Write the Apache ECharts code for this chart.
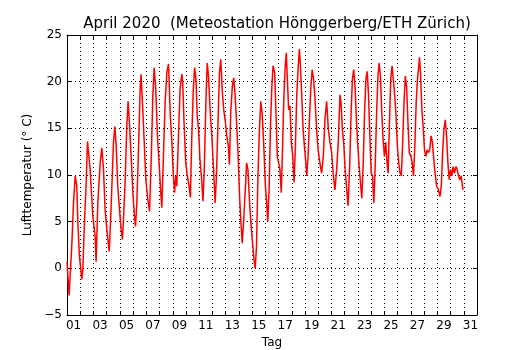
<!DOCTYPE html>
<html>
<head>
<meta charset="utf-8">
<script src="https://cdn.jsdelivr.net/npm/echarts@6/dist/echarts.min.js"></script>
<style>
  html, body { margin: 0; padding: 0; background: #fff; }
  #chartmain { width: 530px; height: 350px; }
</style>
</head>
<body>
<div id="chartmain"></div>
<script>
// Tage seit 1. April 00:00, Lufttemperatur in Grad C
var woche1 = [
    [0.0, 0.7], [0.16, -2.9], [0.37, 2.7], [0.49, 7.0], [0.62, 9.9], [0.74, 8.8], [0.82, 4.9], [0.94, 1.3],
    [1.12, -1.2], [1.2, -0.1], [1.3, 4.2], [1.45, 9.2], [1.55, 13.6], [1.62, 13.4], [1.75, 10.6], [1.95, 5.6],
    [2.13, 3.4], [2.2, 0.7], [2.33, 7.0], [2.51, 11.3], [2.63, 12.9], [2.76, 10.6], [2.88, 6.3], [3.01, 4.2],
    [3.19, 1.8], [3.31, 5.6], [3.44, 10.6], [3.51, 13.4], [3.62, 15.2], [3.72, 13.1], [3.84, 8.8], [3.97, 6.3],
    [4.09, 4.2], [4.19, 3.1], [4.27, 5.2], [4.4, 9.5], [4.52, 15.2], [4.62, 17.9], [4.72, 15.6], [4.85, 12.0],
    [4.98, 8.1], [5.1, 5.6], [5.18, 4.5], [5.28, 7.0], [5.4, 12.4], [5.53, 19.2], [5.6, 20.8], [5.73, 17.0],
    [5.83, 13.8], [5.96, 9.5], [6.11, 7.4], [6.24, 6.1], [6.36, 11.3], [6.49, 18.5], [6.59, 21.5], [6.71, 19.2],
    [6.84, 14.2], [6.99, 10.6], [7.12, 7.4], [7.17, 6.5], [7.29, 12.0], [7.42, 17.8], [7.55, 21.0]
];
var woche2 = [
    [7.68, 21.9], [7.8, 16.7], [7.93, 13.5], [8.03, 10.2], [8.13, 8.1], [8.23, 9.9], [8.3, 8.8], [8.43, 14.2],
    [8.55, 19.2], [8.68, 20.8], [8.75, 19.9], [8.85, 15.6], [8.98, 11.3], [9.1, 9.9], [9.23, 8.8], [9.33, 7.6],
    [9.43, 13.8], [9.55, 19.2], [9.65, 21.5], [9.75, 20.3], [9.85, 16.3], [9.95, 14.9], [10.05, 11.7], [10.18, 9.5],
    [10.28, 7.2], [10.38, 10.6], [10.5, 17.7], [10.6, 22.0], [10.7, 20.6], [10.83, 16.7], [10.95, 14.2], [11.08, 10.6],
    [11.2, 7.0], [11.3, 9.9], [11.43, 16.3], [11.53, 21.0], [11.63, 22.4], [11.73, 19.2], [11.85, 17.0], [11.98, 15.6],
    [12.08, 14.2], [12.2, 13.1], [12.28, 11.1], [12.38, 16.7], [12.5, 19.5], [12.6, 20.4], [12.7, 18.8], [12.8, 16.3],
    [12.93, 12.4], [13.05, 7.7], [13.15, 4.9], [13.25, 2.7], [13.35, 4.9], [13.48, 8.4], [13.58, 11.3], [13.68, 10.6],
    [13.78, 7.7], [13.9, 4.9], [14.03, 2.7], [14.13, 1.0], [14.23, 0.0], [14.33, 2.4], [14.43, 9.5], [14.55, 14.9],
    [14.65, 17.9], [14.75, 16.7], [14.88, 13.1], [15.0, 8.8], [15.1, 7.0], [15.18, 5.0], [15.28, 8.4], [15.38, 14.9],
    [15.48, 19.2], [15.58, 21.7]
];
var woche3 = [
    [15.7, 21.0], [15.8, 16.7], [15.9, 12.0], [16.0, 11.3], [16.1, 10.6], [16.2, 8.1], [16.3, 13.1], [16.4, 18.5],
    [16.5, 21.7], [16.58, 23.1], [16.66, 20.3], [16.76, 17.0], [16.86, 17.4], [16.96, 13.5], [17.07, 12.0], [17.17, 9.2],
    [17.27, 13.1], [17.37, 18.5], [17.47, 21.3], [17.57, 23.5], [17.65, 21.7], [17.75, 18.5], [17.85, 14.9], [17.95, 13.1],
    [18.06, 11.3], [18.13, 9.9], [18.23, 12.0], [18.34, 16.3], [18.44, 19.5], [18.54, 21.3], [18.64, 20.3], [18.74, 18.5],
    [18.87, 14.9], [18.99, 12.7], [19.12, 11.3], [19.25, 10.2], [19.38, 12.0], [19.5, 15.9], [19.63, 17.9], [19.76, 14.9],
    [19.88, 13.5], [20.01, 12.4], [20.14, 9.9], [20.26, 8.4], [20.39, 10.6], [20.52, 13.8], [20.64, 18.6], [20.72, 17.7],
    [20.82, 14.9], [20.92, 13.5], [21.03, 10.6], [21.15, 8.4], [21.25, 6.7], [21.38, 11.3], [21.48, 16.7], [21.58, 20.3],
    [21.68, 21.3], [21.79, 19.2], [21.89, 15.6], [21.99, 13.1], [22.09, 10.9], [22.19, 9.2], [22.29, 7.5], [22.4, 11.3],
    [22.5, 16.7], [22.6, 20.3], [22.7, 21.1], [22.8, 18.5], [22.9, 14.2], [23.0, 10.2], [23.1, 9.9], [23.2, 7.0],
    [23.31, 11.3], [23.41, 16.7], [23.51, 20.6]
];
var woche4 = [
    [23.6, 22.0], [23.7, 20.6], [23.8, 16.7], [23.9, 13.8], [24.0, 12.0], [24.1, 13.5], [24.2, 11.3], [24.28, 10.2],
    [24.38, 15.6], [24.48, 20.3], [24.58, 21.7], [24.68, 21.9], [24.78, 18.5], [24.88, 16.3], [24.98, 13.1], [25.08, 11.3],
    [25.18, 10.2], [25.28, 9.9], [25.38, 13.5], [25.48, 17.7], [25.58, 20.6], [25.68, 19.4], [25.78, 15.6], [25.88, 12.4],
    [26.0, 12.0], [26.1, 11.3], [26.2, 9.9], [26.3, 13.1], [26.4, 17.7], [26.5, 20.3], [26.6, 21.7], [26.65, 22.6],
    [26.73, 21.0], [26.83, 17.0], [26.93, 15.2], [27.03, 12.7], [27.13, 12.0], [27.23, 12.7], [27.33, 12.4], [27.43, 12.7],
    [27.53, 14.2], [27.63, 13.5], [27.73, 11.7], [27.83, 10.2], [27.95, 8.8], [28.08, 8.4], [28.2, 7.7], [28.3, 8.8],
    [28.4, 12.4], [28.5, 14.9], [28.6, 15.9], [28.7, 14.2], [28.8, 11.3], [28.9, 9.5], [29.0, 10.6], [29.1, 9.9],
    [29.2, 10.9], [29.3, 10.2], [29.4, 10.9], [29.5, 10.6], [29.6, 9.9], [29.7, 9.5], [29.8, 9.9], [29.9, 8.8],
    [29.95, 8.4]
];
// beschriftete Tage (Beschriftung jeweils in der Tagesmitte)
var labelDays = [1, 3, 5, 7, 9, 11, 13, 15, 17, 19, 21, 23, 25, 27, 29, 31];
var yTicks = { min: -5, max: 25, step: 5 };

var tempData = woche1.concat(woche2, woche3, woche4);
var font = 'DejaVu Sans';
var gridDots = { color: '#000', width: 1, type: [1, 3] };
var boxLine = { show: true, onZero: false, lineStyle: { color: '#000', width: 1 } };
var innerTick = { show: true, inside: true, length: 4, lineStyle: { color: '#000' } };

var myChart = echarts.init(document.getElementById('chartmain'));
var option = {
    animation: false,
    title: {
        text: 'April 2020  (Meteostation Hönggerberg/ETH Zürich)',
        left: 272,
        textAlign: 'center',
        top: 12,
        textStyle: { fontFamily: font, fontSize: 15, fontWeight: 'normal', color: '#000' }
    },
    grid: { left: 67, right: 53, top: 35, bottom: 35, outerBoundsMode: 'none' },
    xAxis: [{
        type: 'value',
        min: 0,
        max: 31,
        interval: 1,
        name: 'Tag',
        nameLocation: 'middle',
        nameGap: 21,
        nameTextStyle: { fontFamily: font, fontSize: 12, color: '#000' },
        axisLine: boxLine,
        axisTick: innerTick,
        axisLabel: {
            fontFamily: font, fontSize: 12, color: '#000', margin: 5,
            customValues: labelDays.map(function (d) { return d - 0.5; }),
            formatter: function (v) {
                var d = Math.round(v + 0.5);
                return (d < 10 ? '0' : '') + d;
            }
        },
        splitLine: { show: true, lineStyle: gridDots }
    }, {
        type: 'value',
        position: 'top',
        min: 0,
        max: 31,
        interval: 1,
        axisLine: boxLine,
        axisTick: innerTick,
        axisLabel: { show: false },
        splitLine: { show: false }
    }],
    yAxis: [{
        type: 'value',
        min: yTicks.min,
        max: yTicks.max,
        interval: yTicks.step,
        name: 'Lufttemperatur (° C)',
        nameLocation: 'middle',
        nameGap: 31,
        nameTextStyle: { fontFamily: font, fontSize: 12, color: '#000' },
        axisLine: boxLine,
        axisTick: innerTick,
        axisLabel: {
            fontFamily: font, fontSize: 12, color: '#000', margin: 5,
            formatter: function (v) { return v < 0 ? '\u2212' + Math.abs(v) : String(v); }
        },
        splitLine: { show: true, lineStyle: gridDots }
    }, {
        type: 'value',
        position: 'right',
        min: yTicks.min,
        max: yTicks.max,
        interval: yTicks.step,
        axisLine: boxLine,
        axisTick: innerTick,
        axisLabel: { show: false },
        splitLine: { show: false }
    }],
    series: [{
        type: 'line',
        xAxisIndex: 0,
        yAxisIndex: 0,
        data: tempData,
        showSymbol: false,
        symbol: 'none',
        lineStyle: { color: '#ff0000', width: 1.5 },
        z: 5
    }]
};
myChart.setOption(option);
</script>
</body>
</html>
